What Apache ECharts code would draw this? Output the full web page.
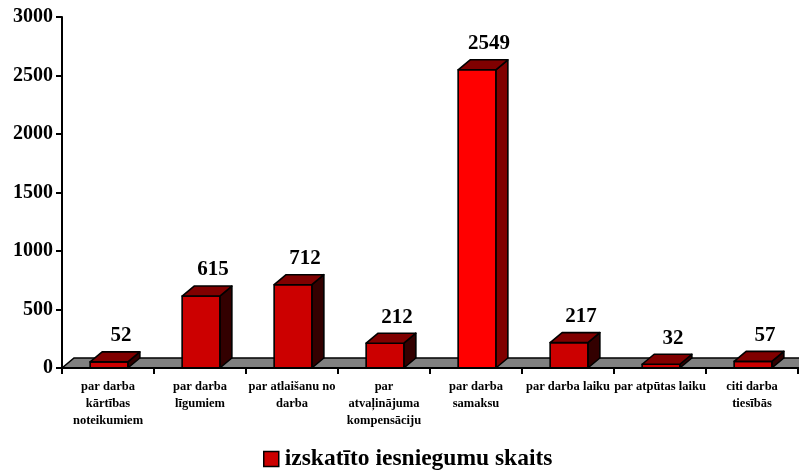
<!DOCTYPE html>
<html>
<head>
<meta charset="utf-8">
<script src="https://cdn.jsdelivr.net/npm/echarts@6/dist/echarts.min.js"></script>
<style>
html,body{margin:0;padding:0;background:#fff;}
#chart{width:799px;height:471px;}
</style>
</head>
<body>
<div id="chart"></div>
<script>
const categories = [
  'par darba\nkārtības\nnoteikumiem',
  'par darba\nlīgumiem',
  'par atlaišanu no\ndarba',
  'par\natvaļinājuma\nkompensāciju',
  'par darba\nsamaksu',
  'par darba laiku',
  'par atpūtas laiku',
  'citi darba\ntiesībās'
];
const values = [52, 615, 712, 212, 2549, 217, 32, 57];
const seriesName = 'izskatīto iesniegumu skaits';
const yTicks = [0, 500, 1000, 1500, 2000, 2500, 3000];

const FONT = '"Liberation Serif", "Times New Roman", serif';
const DX = 12, DY = 10;
const HIGHLIGHT = 4;

const chart = echarts.init(document.getElementById('chart'), null, {renderer: 'canvas'});

function renderBar(params, api) {
  const i = api.value(0);
  const v = api.value(1);
  const p = api.coord([i, v]);
  const p0 = api.coord([i, 0]);
  const bw = api.size([1, 0])[0] * 0.41;
  const l = p[0] - bw / 2 + 1, r = p[0] + bw / 2 + 1, t = p[1], b = p0[1];
  const hi = i === HIGHLIGHT;
  const stroke = {stroke: '#000', lineWidth: 1.6, lineJoin: 'round'};
  return {
    type: 'group',
    children: [
      {type: 'polygon', shape: {points: [[r, t], [r + DX, t - DY], [r + DX, b - DY], [r, b]]},
        style: Object.assign({fill: hi ? '#800000' : '#330000'}, stroke)},
      {type: 'rect', shape: {x: l, y: t, width: bw, height: b - t},
        style: Object.assign({fill: hi ? '#FF0000' : '#CC0000'}, stroke)},
      {type: 'polygon', shape: {points: [[l, t], [l + DX, t - DY], [r + DX, t - DY], [r, t]]},
        style: Object.assign({fill: '#800000'}, stroke)},
      {type: 'text', x: p[0] + 13, y: t - 26,
        style: {text: String(v), fill: '#000', font: 'bold 21px ' + FONT, align: 'center', verticalAlign: 'middle'}}
    ]
  };
}

function renderFloor(params, api) {
  const cs = params.coordSys;
  const b = cs.y + cs.height;
  const l = cs.x, r = cs.x + cs.width + 20;
  return {
    type: 'polygon',
    shape: {points: [[l, b], [l + DX, b - DY], [r + DX, b - DY], [r, b]]},
    style: {fill: '#808080', stroke: '#000', lineWidth: 1.6}
  };
}

chart.setOption({
  backgroundColor: '#fff',
  animation: false,
  grid: {left: 62, right: 1, top: 17, bottom: 103, containLabel: false},
  legend: {
    data: [{name: seriesName, icon: 'rect', itemStyle: {color: '#CC0000', borderColor: '#000', borderWidth: 1.5}}],
    left: 258, top: 442,
    itemWidth: 15, itemHeight: 15, itemGap: 6,
    textStyle: {fontFamily: FONT, fontWeight: 'bold', fontSize: 23.5, color: '#000', padding: [0, 0, 0, 1]},
    selectedMode: false
  },
  xAxis: {
    type: 'category',
    data: categories,
    boundaryGap: true,
    axisLine: {lineStyle: {color: '#000', width: 2}},
    axisTick: {show: true, length: 6, interval: 0, lineStyle: {color: '#000', width: 2}},
    axisLabel: {interval: 0, margin: 10, color: '#000', fontFamily: FONT, fontWeight: 'bold', fontSize: 12.5, lineHeight: 17, align: 'center'},
    splitLine: {show: false},
    z: 10
  },
  yAxis: {
    type: 'value',
    min: yTicks[0], max: yTicks[yTicks.length - 1], interval: yTicks[1] - yTicks[0],
    axisLine: {show: true, lineStyle: {color: '#000', width: 2}},
    axisTick: {show: true, length: 6, lineStyle: {color: '#000', width: 2}},
    axisLabel: {margin: 9, color: '#000', fontFamily: FONT, fontWeight: 'bold', fontSize: 20, formatter: v => String(v)},
    splitLine: {show: false}
  },
  series: [
    {
      name: 'floor', type: 'custom', renderItem: renderFloor, data: [[0, 0]], z: 1, silent: true, clip: false
    },
    {
      name: seriesName, type: 'custom', renderItem: renderBar,
      itemStyle: {color: '#CC0000'},
      data: values.map((v, i) => [i, v]), z: 2, clip: false,
      encode: {x: 0, y: 1}
    }
  ]
});
</script>
</body>
</html>
